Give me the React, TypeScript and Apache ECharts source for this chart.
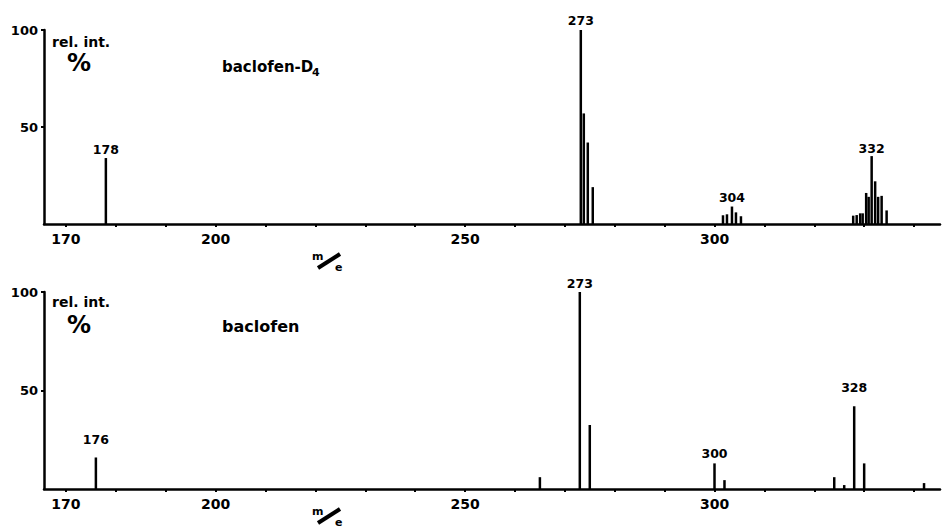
import React, { useRef, useEffect } from "react";
import * as echarts from "echarts";

const FONT = '"DejaVu Sans", Lato, sans-serif';

// m/e axis
const xTickLabels = [170, 200, 250, 300];
const xMinorTicks = [170, 180, 190, 200, 210, 220, 230, 240, 250, 260, 270, 280, 290, 300, 310, 320, 330, 340];
const yTickLabels = [50, 100];

// baclofen-D4 spectrum (m/e as drawn, rel. int. %)
const topMz = [178, 273.2, 273.8, 274.6, 275.6, 301.7, 302.5, 303.5, 304.3, 305.3,
  327.8, 328.5, 329.2, 329.7, 330.4, 330.9, 331.5, 332.2, 332.8, 333.5, 334.5];
const topInt = [34, 100, 57, 42, 19, 4.5, 5, 9, 6, 4,
  4.3, 4.6, 5.5, 5.5, 16, 14, 35, 22, 14, 14.5, 7];
const topPeakLabels = ["178", "273", "", "", "", "", "", "304", "", "",
  "", "", "", "", "", "", "332", "", "", "", ""];

// baclofen spectrum
const botMz = [176, 265, 273, 275, 300, 302, 324, 326, 328, 330, 342];
const botInt = [16, 6, 100, 32.5, 13, 4.5, 6, 2, 42, 13, 3];
const botPeakLabels = ["176", "", "273", "", "300", "", "", "", "328", "", ""];

const labelGapTop: Record<string, number> = { "178": 2, "273": 3, "304": 3, "332": 1 };
const labelGapBot: Record<string, number> = { "176": 11, "273": 2, "300": 3, "328": 12 };

function buildData(mz: number[], inten: number[], labels: string[], gaps: Record<string, number>) {
  return mz.map((x, i) => {
    const lab = labels[i];
    const item: any = { value: [x, inten[i]], name: lab };
    if (lab) {
      item.label = {
        show: true,
        position: "top",
        distance: gaps[lab],
        formatter: "{b}",
        color: "#000",
        fontFamily: FONT,
        fontWeight: "bold",
        fontSize: 12.5,
      };
    }
    return item;
  });
}

function xAxisCfg(gridIndex: number) {
  return {
    type: "value",
    gridIndex,
    min: 165.6,
    max: 345.2,
    axisLine: { show: true, lineStyle: { color: "#000", width: 2.5 } },
    axisTick: {
      show: true,
      customValues: xMinorTicks,
      length: 3,
      lineStyle: { color: "#000", width: 2 },
    },
    axisLabel: {
      show: true,
      customValues: xTickLabels,
      margin: 8,
      color: "#000",
      fontFamily: FONT,
      fontWeight: "bold",
      fontSize: 14,
    },
    splitLine: { show: false },
  };
}

function yAxisCfg(gridIndex: number) {
  return {
    type: "value",
    gridIndex,
    min: 0,
    max: 100,
    interval: 50,
    axisLine: { show: true, lineStyle: { color: "#000", width: 2.5 } },
    axisTick: {
      show: true,
      customValues: yTickLabels,
      length: 3,
      lineStyle: { color: "#000", width: 2 },
    },
    axisLabel: {
      show: true,
      customValues: yTickLabels,
      margin: 6,
      color: "#000",
      fontFamily: FONT,
      fontWeight: "bold",
      fontSize: 13,
    },
    splitLine: { show: false },
  };
}

function txt(x: number, y: number, text: string, size: number, align = "left") {
  return {
    type: "text",
    x,
    y,
    style: {
      text,
      fill: "#000",
      fontFamily: FONT,
      fontWeight: "bold",
      fontSize: size,
      textAlign: align,
      textVerticalAlign: "middle",
    },
  };
}

function mOverE(x: number, y: number) {
  // x,y: top-left of the m/e mark
  return [
    txt(x, y + 3, "m", 11),
    {
      type: "line",
      shape: { x1: x + 6, y1: y + 15, x2: x + 28, y2: y + 1 },
      style: { stroke: "#000", lineWidth: 4 },
    },
    txt(x + 23, y + 14, "e", 11),
  ];
}

export default function App() {
  const ref = useRef<HTMLDivElement>(null);
  useEffect(() => {
    if (!ref.current) return;
    const chart = echarts.init(ref.current, undefined, { renderer: "svg" });
    chart.setOption({
      animation: false,
      backgroundColor: "#fff",
      grid: [
        { left: 44, width: 896, top: 30, height: 194 },
        { left: 44, width: 896, top: 292, height: 197 },
      ],
      xAxis: [xAxisCfg(0), xAxisCfg(1)],
      yAxis: [yAxisCfg(0), yAxisCfg(1)],
      series: [
        {
          type: "bar",
          xAxisIndex: 0,
          yAxisIndex: 0,
          barWidth: 2.5,
          itemStyle: { color: "#000" },
          data: buildData(topMz, topInt, topPeakLabels, labelGapTop),
        },
        {
          type: "bar",
          xAxisIndex: 1,
          yAxisIndex: 1,
          barWidth: 2.5,
          itemStyle: { color: "#000" },
          data: buildData(botMz, botInt, botPeakLabels, labelGapBot),
        },
      ],
      graphic: [
        txt(52, 42, "rel. int.", 14),
        txt(67, 63, "%", 24),
        txt(222, 67, "baclofen-D", 15),
        txt(312, 72, "4", 11),
        ...mOverE(312, 253),
        txt(52, 302, "rel. int.", 14),
        txt(67, 325, "%", 24),
        txt(222, 326, "baclofen", 16),
        ...mOverE(312, 508),
      ],
    });
    return () => chart.dispose();
  }, []);
  return (
    <div
      ref={ref}
      style={{ position: "fixed", left: 0, top: 0, width: 946, height: 528, background: "#fff" }}
    />
  );
}
